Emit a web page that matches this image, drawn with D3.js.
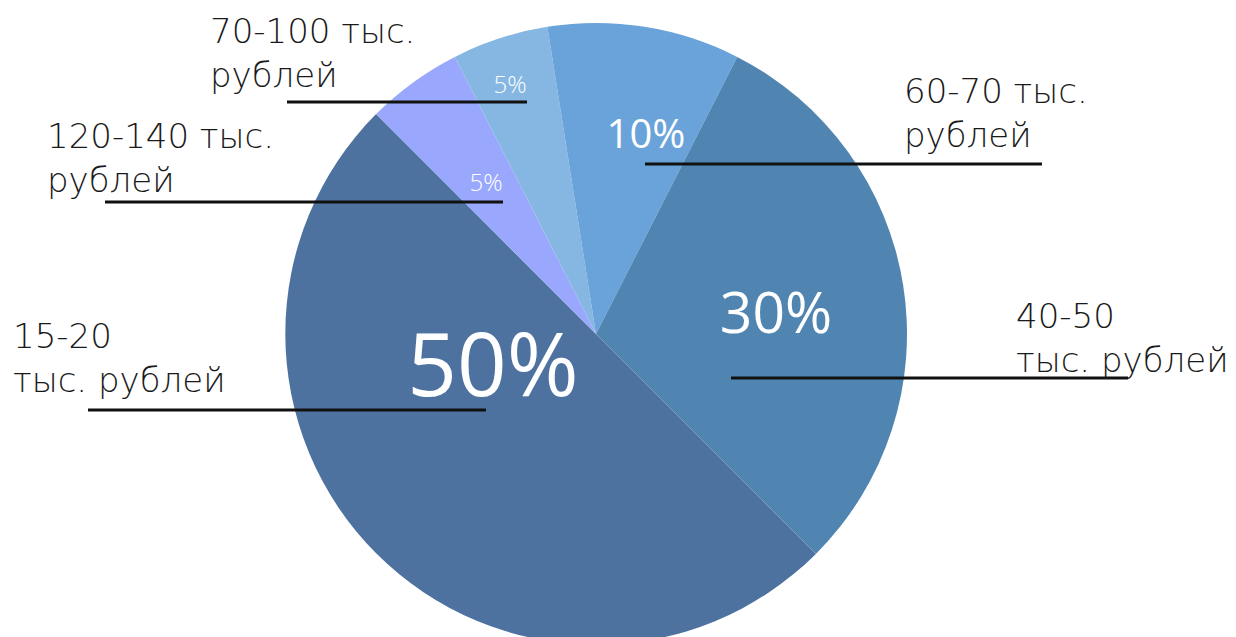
<!DOCTYPE html>
<html>
<head>
<meta charset="utf-8">
<script src="https://cdn.jsdelivr.net/npm/d3@7"></script>
<style>
  body { margin: 0; background: #fff; }
  svg { display: block; }
</style>
</head>
<body>
<svg id="chart"></svg>
<script>
// slices, clockwise from the lower right edge of the 50% slice
const categories = ['15-20 тыс. рублей', '120-140 тыс. рублей', '70-100 тыс. рублей', '60-70 тыс. рублей', '40-50 тыс. рублей'];
const shares = [50, 5, 5, 10, 30];
const labelLines = [
  ['15-20', 'тыс. рублей'],
  ['120-140 тыс.', 'рублей'],
  ['70-100 тыс.', 'рублей'],
  ['60-70 тыс.', 'рублей'],
  ['40-50', 'тыс. рублей'],
];
const colors = ['#4e72a0', '#99a8fc', '#85b7e2', '#69a3d9', '#5084b1'];

function drawChart() {
  const width = 1236, height = 637;
  const cx = 596, cy = 334, radius = 311;

  const chart = d3.select('#chart').attr('width', width).attr('height', height);

  const pie = d3.pie()
    .sort(null)
    .value((d) => d)
    .startAngle(Math.PI * 0.75)
    .endAngle(Math.PI * 0.75 + Math.PI * 2);

  const arc = d3.arc().innerRadius(0).outerRadius(radius);
  const arcs = pie(shares);

  const g = chart.append('g').attr('transform', `translate(${cx}, ${cy})`);

  g.selectAll('path.slice')
    .data(arcs)
    .enter()
    .append('path')
    .classed('slice', true)
    .attr('d', arc)
    .attr('fill', (d, i) => colors[i]);

  // percent labels, positioned relative to the pie centre
  const pct = [
    { dx: -103, dy: 62, size: 87 },
    { dx: -110, dy: -143, size: 24 },
    { dx: -86, dy: -241, size: 24 },
    { dx: 50, dy: -186, size: 40 },
    { dx: 180, dy: -1, size: 57 },
  ];

  g.selectAll('text.pct')
    .data(arcs)
    .enter()
    .append('text')
    .classed('pct', true)
    .text((d) => d.data + '%')
    .attr('x', (d, i) => pct[i].dx)
    .attr('y', (d, i) => pct[i].dy)
    .attr('text-anchor', 'middle')
    .attr('fill', '#fff')
    .attr('font-family', '"Open Sans", sans-serif')
    .attr('font-weight', (d, i) => (pct[i].size < 30 ? 300 : 400))
    .attr('font-size', (d, i) => pct[i].size);

  // category labels with their leader lines
  const lab = [
    { x: 13, y: 348, x1: 88, x2: 486, ly: 410 },
    { x: 47, y: 148, x1: 105, x2: 503, ly: 202 },
    { x: 210, y: 43, x1: 287, x2: 527, ly: 102 },
    { x: 904, y: 103, x1: 645, x2: 1042, ly: 164 },
    { x: 1016, y: 328, x1: 731, x2: 1128, ly: 378 },
  ];

  const labels = chart
    .selectAll('g.label')
    .data(categories)
    .enter()
    .append('g')
    .classed('label', true);

  labels
    .append('text')
    .attr('fill', '#1a1a1a')
    .attr('font-family', '"DejaVu Sans", sans-serif')
    .attr('font-weight', 200)
    .attr('font-size', 34)
    .selectAll('tspan')
    .data((d, i) => labelLines[i].map((t, j) => ({ t, x: lab[i].x, y: lab[i].y + j * 44 })))
    .enter()
    .append('tspan')
    .attr('x', (d) => d.x)
    .attr('y', (d) => d.y)
    .text((d) => d.t);

  labels
    .append('line')
    .attr('x1', (d, i) => lab[i].x1)
    .attr('x2', (d, i) => lab[i].x2)
    .attr('y1', (d, i) => lab[i].ly)
    .attr('y2', (d, i) => lab[i].ly)
    .attr('stroke', '#111')
    .attr('stroke-width', 3);
}

drawChart();
</script>
</body>
</html>
